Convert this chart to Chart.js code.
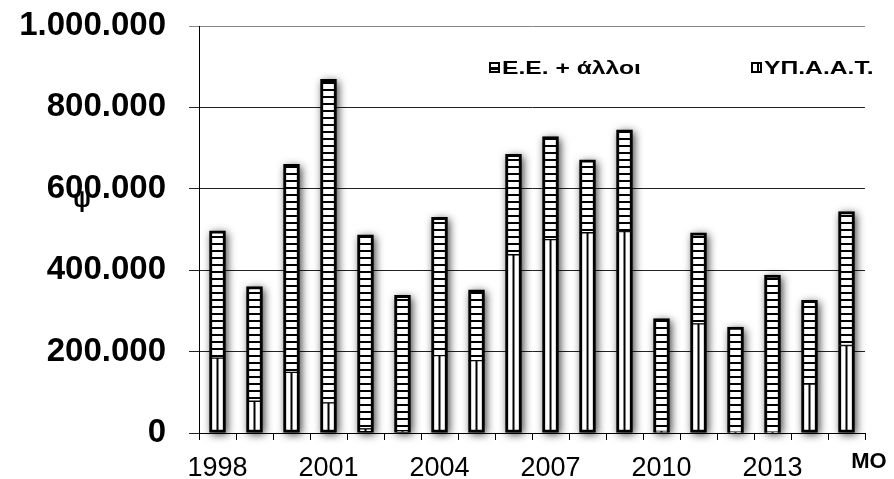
<!DOCTYPE html>
<html>
<head>
<meta charset="utf-8">
<script src="https://cdn.jsdelivr.net/npm/chart.js@4.4.1/dist/chart.umd.min.js"></script>
<style>
  body { margin: 0; background: #fff; }
  #wrap { position: relative; width: 894px; height: 479px; }
  .leg { position: absolute; font: bold 18px "Liberation Sans", Arial, sans-serif; color: #000;
         transform: scaleX(1.37); transform-origin: left center; white-space: nowrap; line-height: 20px; }
  .box { position: absolute; width: 7px; height: 7px; border: 2px solid #000; }
</style>
</head>
<body>
<div id="wrap">
  <canvas id="chart" width="894" height="479"></canvas>
  <div class="box" style="left:489px;top:62px;background:linear-gradient(to bottom,#fff 50%,#000 50%,#000 80%,#fff 80%);"></div>
  <div class="leg" style="left:502px;top:58px;">Ε.Ε. + άλλοι</div>
  <div class="box" style="left:751px;top:62px;background:linear-gradient(to right,#fff 55%,#000 55%,#000 85%,#fff 85%);"></div>
  <div class="leg" style="left:764px;top:58px;">ΥΠ.Α.Α.Τ.</div>
</div>
<script>
var years = ["1998","1999","2000","2001","2002","2003","2004","2005","2006","2007","2008","2009","2010","2011","2012","2013","2014","ΜΟ"];
var ypaat = [184000,78000,149000,74000,10000,6000,190000,178000,438000,475000,492000,495000,4000,268000,2000,2000,120000,215000];
var eeOthers = [313000,282000,511000,795000,477000,332000,340000,174000,247000,253000,179000,250000,277000,224000,258000,386000,206000,329000];
var yTicks = [0,200000,400000,600000,800000,1000000];

// horizontal stripes
function hPattern() {
  var c = document.createElement("canvas");
  c.width = 8; c.height = 7;
  var g = c.getContext("2d");
  g.fillStyle = "#fff"; g.fillRect(0,0,8,7);
  g.fillStyle = "#000"; g.fillRect(0,5,8,2);
  return g.createPattern(c, "repeat");
}

// one vertical line per category, moved onto the bar centres after layout
var vPat = null;
function makeVPattern(chart) {
  var xs = chart.scales.x;
  var w = xs.width / years.length;
  var c = document.createElement("canvas");
  c.width = Math.round(w); c.height = 4;
  var g = c.getContext("2d");
  g.fillStyle = "#fff"; g.fillRect(0,0,c.width,4);
  g.fillStyle = "#000"; g.fillRect(0,0,2,4);
  var p = g.createPattern(c, "repeat");
  p.setTransform(new DOMMatrix().translateSelf(xs.getPixelForValue(0) - 1, 0));
  return p;
}

var extras = {
  id: "extras",
  afterLayout: function(chart) { vPat = makeVPattern(chart); },
  // soft drop shadow behind each stacked column
  beforeDatasetsDraw: function(chart) {
    var ctx = chart.ctx;
    var bot = chart.getDatasetMeta(0), top = chart.getDatasetMeta(1);
    var off = 5000;
    ctx.save();
    ctx.shadowColor = "rgba(0,0,0,0.75)";
    ctx.shadowBlur = 8;
    ctx.shadowOffsetX = off + 2;
    ctx.shadowOffsetY = 2;
    ctx.fillStyle = "#000";
    top.data.forEach(function(t, i) {
      var b = bot.data[i];
      ctx.fillRect(t.x - t.width / 2 - off, t.y, t.width, b.base - t.y);
    });
    ctx.restore();
  },
  afterDraw: function(chart) {
    var ctx = chart.ctx, xs = chart.scales.x;
    ctx.save();
    ctx.fillStyle = "#000";
    ctx.font = "bold 22px 'Liberation Sans', Arial, sans-serif";
    ctx.textAlign = "center";
    ctx.textBaseline = "alphabetic";
    ctx.fillText(years[years.length - 1], xs.right + 4, 468);
    ctx.font = "bold 24px 'Liberation Sans', Arial, sans-serif";
    ctx.fillText("ψ", 82, 207);
    ctx.restore();
  }
};

new Chart(document.getElementById("chart"), {
  type: "bar",
  data: {
    labels: years,
    datasets: [
      { label: "ΥΠ.Α.Α.Τ.", data: ypaat,
        backgroundColor: function() { return vPat || "#fff"; },
        borderColor: "#000", borderWidth: {left:3, right:3, bottom:3, top:1}, borderSkipped: false,
        barThickness: 16 },
      { label: "Ε.Ε. + άλλοι", data: eeOthers,
        backgroundColor: hPattern(),
        borderColor: "#000", borderWidth: {left:3, right:3, top:3, bottom:1}, borderSkipped: false,
        barThickness: 16 }
    ]
  },
  options: {
    responsive: false,
    animation: false,
    layout: { padding: { top: 26, right: 29, left: 0, bottom: 0 } },
    plugins: { legend: { display: false }, tooltip: { enabled: false } },
    scales: {
      x: {
        stacked: true,
        grid: { drawOnChartArea: false, tickLength: 7, color: "#000" },
        border: { color: "#000", width: 1 },
        ticks: {
          autoSkip: false, maxRotation: 0, padding: 15, color: "#000",
          font: { family: "'Liberation Sans', Arial, sans-serif", size: 27, lineHeight: 1 },
          callback: function(v, i) { return (i % 3 === 0 && i < years.length - 1) ? years[i] : ""; }
        },
        afterFit: function(s) { s.height = 46; s.paddingLeft = 0; s.paddingRight = 0; }
      },
      y: {
        stacked: true,
        min: 0, max: 1000000,
        afterBuildTicks: function(s) { s.ticks = yTicks.map(function(v) { return { value: v }; }); },
        grid: {
          color: function(c) { return c.tick && c.tick.value === 1000000 ? "#888" : "#222"; },
          tickLength: 10
        },
        border: { color: "#000", width: 1 },
        ticks: {
          padding: 23, color: "#000",
          font: { family: "'Liberation Sans', Arial, sans-serif", size: 33, weight: "bold" },
          callback: function(v) { return String(v).replace(/\B(?=(\d{3})+(?!\d))/g, "."); }
        },
        afterFit: function(s) { s.width = 199; s.paddingTop = 0; s.paddingBottom = 0; }
      }
    }
  },
  plugins: [extras]
});
</script>
</body>
</html>
